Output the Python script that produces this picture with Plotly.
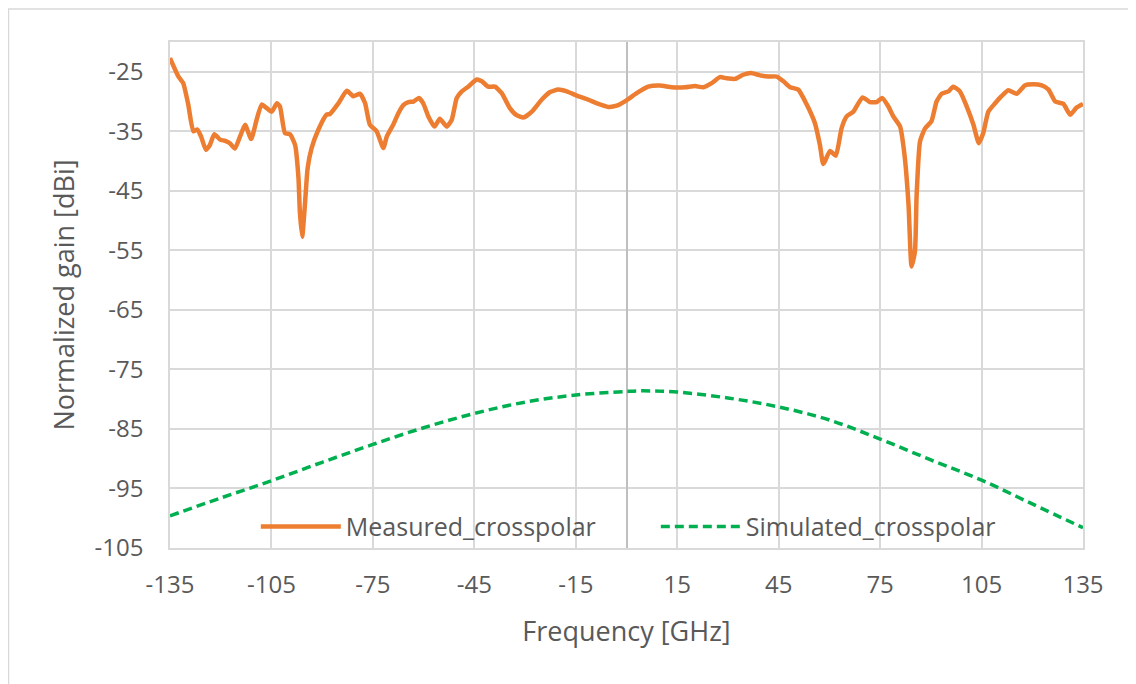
import plotly.graph_objects as go

# measured cross-polar gain
meas_freq = [
  -135.0, -132.5, -131.1, -129.6, -128.1, -126.9, -125.8, -124.4, -123.2, -121.9,
  -120.2, -118.7, -117.3, -115.8, -114.3, -112.8, -111.0, -109.4, -107.9, -106.4,
  -104.9, -103.4, -102.5, -101.0, -99.5, -98.0, -97.0, -96.6, -95.9, -95.1,
  -94.3, -93.1, -91.1, -88.7, -87.7, -85.2, -82.7, -80.8, -78.8, -77.3,
  -75.9, -73.9, -71.9, -70.9, -69.0, -67.5, -66.0, -64.5, -63.0, -61.4,
  -60.1, -58.6, -56.8, -55.2, -53.2, -51.7, -50.2, -48.7, -46.8, -44.3,
  -42.8, -40.9, -38.9, -36.9, -34.5, -32.5, -30.5, -28.0, -25.1, -22.6,
  -20.2, -17.7, -14.7, -11.3, -8.3, -5.4, -2.9, 0.0, 3.0, 6.4,
  9.9, 13.4, 17.3, 20.3, 22.7, 25.2, 27.6, 29.6, 32.1, 34.5,
  36.8, 39.5, 41.9, 44.4, 46.4, 48.4, 50.8, 53.3, 55.7, 57.2,
  58.2, 60.2, 61.9, 63.6, 65.1, 67.1, 69.8, 72.0, 74.0, 75.6,
  77.4, 78.9, 80.9, 82.2, 83.4, 84.3, 85.3, 85.8, 86.8, 88.3,
  90.2, 91.7, 93.2, 95.2, 96.6, 98.6, 100.6, 102.6, 104.2, 105.5,
  107.0, 109.0, 110.9, 112.9, 115.4, 117.8, 120.3, 122.8, 124.8, 126.8,
  129.2, 131.2, 133.1, 135.0,
]
meas_gain = [
  -22.7, -25.8, -26.9, -30.5, -35.0, -34.7, -35.9, -38.1, -37.3, -35.5,
  -36.4, -36.6, -37.0, -37.9, -35.9, -33.9, -36.3, -33.1, -30.5, -31.1,
  -31.7, -30.3, -30.8, -35.3, -35.5, -37.3, -42.9, -48.5, -52.7, -47.3,
  -41.2, -37.8, -34.7, -32.2, -32.1, -30.3, -28.2, -29.1, -28.7, -30.3,
  -33.9, -35.0, -37.8, -35.9, -33.9, -32.0, -30.6, -30.1, -30.0, -29.4,
  -30.3, -32.5, -34.2, -32.9, -34.2, -33.1, -29.4, -28.3, -27.5, -26.3,
  -26.6, -27.5, -27.5, -28.6, -31.1, -32.3, -32.7, -31.7, -29.7, -28.4,
  -28.0, -28.3, -29.0, -29.7, -30.4, -30.9, -30.7, -29.8, -28.6, -27.5,
  -27.3, -27.6, -27.6, -27.4, -27.6, -26.9, -25.9, -26.1, -26.2, -25.5,
  -25.2, -25.6, -25.8, -25.8, -26.6, -27.6, -28.0, -30.5, -33.6, -37.3,
  -40.5, -38.3, -39.1, -34.5, -32.5, -31.7, -29.3, -30.1, -30.1, -29.4,
  -30.8, -32.5, -34.2, -38.9, -47.3, -57.7, -55.2, -45.7, -36.7, -34.5,
  -33.3, -30.0, -28.7, -28.3, -27.5, -28.3, -30.8, -33.9, -37.0, -35.3,
  -31.7, -30.3, -29.1, -28.1, -28.7, -27.3, -27.1, -27.3, -28.0, -30.0,
  -30.4, -32.2, -31.0, -30.4,
]

# simulated cross-polar gain
sim_freq = [-135, -120, -105, -90, -75, -60, -45, -30, -15, 0, 5, 15, 30, 45, 60, 75, 90, 105, 120, 135]
sim_gain = [-99.6, -96.6, -93.7, -90.6, -87.6, -84.8, -82.4, -80.5, -79.3, -78.7,
            -78.6, -78.8, -79.8, -81.3, -83.5, -86.7, -90.2, -93.6, -97.6, -101.6]

x_ticks = list(range(-135, 136, 30))
y_ticks = list(range(-105, -24, 10))

TXT = "#595959"
GRID = "#D9D9D9"
FONT = "Open Sans"

fig = go.Figure()
fig.add_trace(go.Scatter(
  x=meas_freq, y=meas_gain, mode="lines", name="Measured_crosspolar",
  line=dict(color="#ED7D31", width=4.5, shape="spline", smoothing=0.5),
))
fig.add_trace(go.Scatter(
  x=sim_freq, y=sim_gain, mode="lines", name="Simulated_crosspolar",
  line=dict(color="#00B050", width=3.5, dash="9px,5px", shape="spline"),
))

fig.update_layout(
  width=1136, height=684,
  margin=dict(l=162, r=61, t=34, b=144),
  paper_bgcolor="white", plot_bgcolor="white",
  font=dict(family=FONT, size=24, color=TXT),
  showlegend=True,
  legend=dict(
    orientation="h", x=0.094, xanchor="left", y=0.042, yanchor="middle",
    bgcolor="rgba(255,255,255,0)", itemwidth=80,
    entrywidth=305, entrywidthmode="pixels",
    font=dict(size=25, color=TXT),
  ),
  xaxis=dict(
    range=[-135, 135], tickvals=x_ticks, ticktext=[str(v) for v in x_ticks],
    showgrid=True, gridcolor=GRID, gridwidth=1.5,
    zeroline=True, zerolinecolor="#BFBFBF", zerolinewidth=1.5,
    showline=True, mirror=True, linecolor=GRID, linewidth=1.5,
    ticks="", ticklabelstandoff=14,
    title=dict(text="Frequency [GHz]", standoff=24, font=dict(size=27, color=TXT)),
  ),
  yaxis=dict(
    range=[-105, -20], tickvals=y_ticks, ticktext=[str(v) for v in y_ticks],
    showgrid=True, gridcolor=GRID, gridwidth=1.5,
    zeroline=False, showline=True, mirror=True, linecolor=GRID, linewidth=1.5,
    ticks="", ticklabelstandoff=20,
    title=dict(text="Normalized gain [dBi]", standoff=12, font=dict(size=27, color=TXT)),
  ),
)

# outer chart frame
fig.add_shape(type="rect", xref="paper", yref="paper",
              x0=-0.1769, x1=1.07, y0=-0.3, y1=1.065,
              line=dict(color="#D9D9D9", width=1.5), fillcolor="rgba(0,0,0,0)", layer="below")

fig.write_html("out.html")
